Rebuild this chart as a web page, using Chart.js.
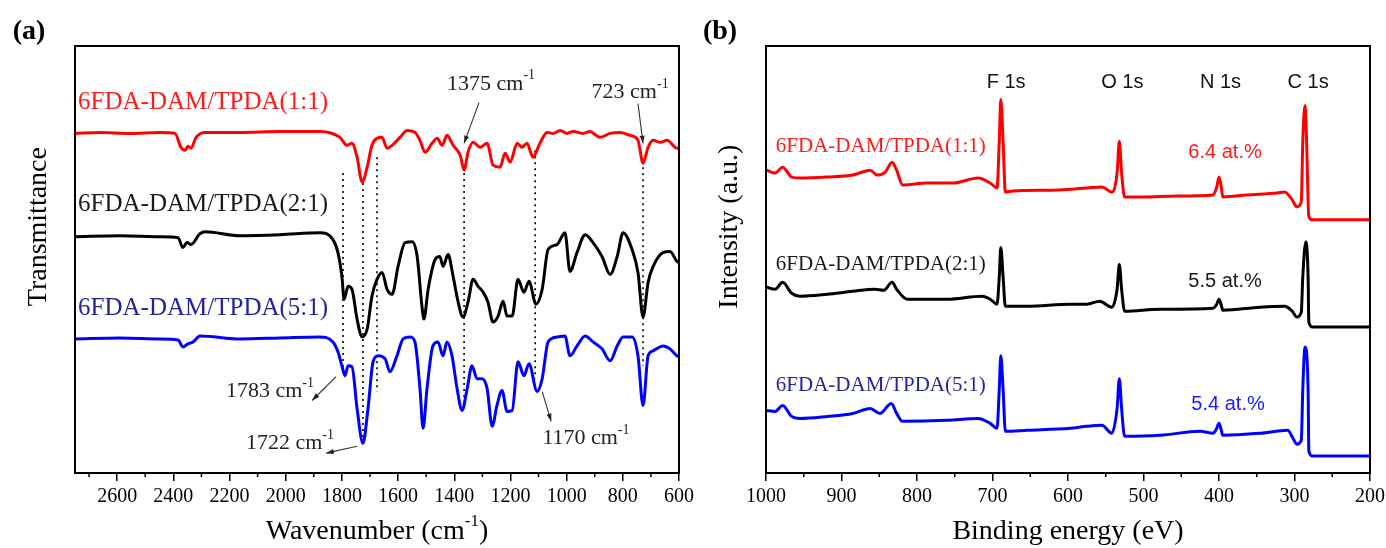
<!DOCTYPE html>
<html>
<head>
<meta charset="utf-8">
<script src="https://cdn.jsdelivr.net/npm/chart.js@4.4.1/dist/chart.umd.min.js"></script>
<style>
  html, body { margin: 0; padding: 0; background: #fff; }
  body { width: 1386px; height: 548px; position: relative; overflow: hidden; }
  canvas { position: absolute; top: 0; }
  #ftir { left: 0; }
  #xps { left: 693px; }
</style>
</head>
<body>
<canvas id="ftir" width="700" height="548"></canvas>
<canvas id="xps" width="693" height="548"></canvas>
<script>
// --- (a) FTIR spectra: wavenumber (cm-1) and offset transmittance (a.u.) ---
const irWn11 = [2750, 2661, 2554, 2447, 2394, 2373, 2358, 2348, 2337, 2319, 2287, 2163, 2020, 1878, 1807, 1782, 1764, 1746, 1728, 1710, 1693, 1675, 1657, 1639, 1621, 1593, 1568, 1540, 1522, 1504, 1479, 1461, 1443, 1426, 1404, 1379, 1365, 1351, 1333, 1308, 1283, 1262, 1237, 1219, 1201, 1176, 1159, 1141, 1120, 1095, 1070, 1048, 1023, 998, 977, 942, 917, 881, 845, 810, 774, 746, 728, 710, 692, 667, 642, 607, 600];
const irT11 = [68.4, 68.6, 68.4, 68.6, 68.4, 65.6, 65.0, 65.8, 65.4, 67.6, 68.6, 68.6, 68.8, 68.8, 67.6, 66.0, 66.4, 63.6, 58.6, 61.6, 66.0, 67.4, 67.6, 65.4, 66.0, 67.6, 69.0, 68.6, 67.0, 64.6, 66.4, 67.4, 66.0, 68.0, 66.0, 64.0, 61.0, 64.6, 66.6, 65.6, 66.4, 62.0, 61.6, 64.4, 62.6, 66.4, 65.6, 66.4, 63.6, 66.4, 68.6, 68.4, 69.0, 68.4, 68.8, 68.4, 68.8, 67.6, 68.4, 68.6, 68.0, 67.0, 62.4, 65.6, 67.0, 66.6, 67.0, 65.4, 65.4];

const irWn21 = [2750, 2590, 2447, 2383, 2366, 2351, 2337, 2305, 2287, 2163, 2020, 1878, 1832, 1814, 1800, 1792, 1778, 1764, 1746, 1728, 1710, 1693, 1675, 1657, 1639, 1621, 1600, 1575, 1550, 1532, 1515, 1508, 1493, 1468, 1451, 1440, 1422, 1404, 1386, 1369, 1351, 1333, 1315, 1297, 1280, 1262, 1244, 1226, 1212, 1194, 1173, 1152, 1134, 1109, 1087, 1066, 1034, 1006, 988, 963, 934, 906, 874, 845, 820, 799, 767, 746, 728, 710, 692, 657, 632, 607, 600];
const irT21 = [47.6, 47.8, 47.6, 47.4, 45.4, 46.4, 46.0, 48.2, 48.6, 47.8, 48.0, 48.4, 47.0, 44.4, 39.6, 35.0, 37.6, 37.0, 31.0, 27.4, 29.0, 35.6, 39.0, 40.4, 37.0, 36.0, 41.6, 46.4, 46.6, 43.6, 33.6, 31.0, 37.0, 43.0, 43.6, 41.6, 44.0, 39.6, 34.4, 31.4, 34.4, 39.0, 37.6, 36.4, 34.4, 30.4, 31.6, 34.6, 31.6, 31.6, 39.0, 36.4, 38.6, 34.0, 37.0, 45.0, 46.0, 48.4, 40.6, 44.4, 48.0, 46.4, 43.6, 40.0, 43.6, 48.4, 45.0, 40.4, 31.4, 38.4, 41.6, 44.4, 44.6, 42.6, 42.4];

const irWn51 = [2750, 2590, 2447, 2383, 2366, 2348, 2330, 2305, 2163, 2020, 1878, 1832, 1814, 1800, 1789, 1778, 1764, 1746, 1725, 1707, 1689, 1671, 1646, 1629, 1604, 1582, 1557, 1540, 1522, 1511, 1497, 1476, 1458, 1440, 1426, 1408, 1390, 1372, 1354, 1337, 1319, 1301, 1283, 1265, 1248, 1230, 1212, 1194, 1173, 1152, 1134, 1105, 1087, 1066, 1034, 1006, 988, 963, 934, 906, 874, 845, 820, 799, 767, 746, 728, 710, 692, 657, 632, 607, 600];
const irT51 = [27.0, 27.2, 27.0, 26.8, 25.4, 26.0, 26.4, 27.6, 27.0, 27.2, 27.4, 26.4, 24.4, 21.6, 19.6, 21.6, 21.4, 13.0, 6.0, 13.0, 22.4, 23.6, 23.0, 20.4, 23.6, 27.0, 27.4, 26.4, 17.0, 9.0, 17.0, 25.6, 26.4, 23.6, 26.4, 23.6, 17.0, 12.6, 17.0, 21.6, 19.0, 19.0, 17.0, 9.4, 13.6, 16.6, 12.4, 12.6, 22.4, 19.6, 22.0, 16.4, 19.0, 26.4, 27.4, 27.6, 23.6, 25.6, 27.6, 26.4, 25.0, 22.6, 25.6, 27.4, 27.4, 23.6, 13.6, 23.6, 24.6, 25.6, 25.0, 23.6, 23.4];

const irTicks = [600, 800, 1000, 1200, 1400, 1600, 1800, 2000, 2200, 2400, 2600];
const irMinor = [700, 900, 1100, 1300, 1500, 1700, 1900, 2100, 2300, 2500, 2700];

// dotted guide lines (band positions) and their vertical extent
const bandWn = [1796, 1725, 1675, 1365, 1112, 728];
const bandTop = [60.4, 58.4, 63.6, 60.4, 65.0, 61.6];
const bandBottom = [20.0, 6.4, 16.4, 13.0, 19.0, 21.6];

// --- (b) XPS survey spectra: binding energy (eV) and offset intensity (a.u.) ---
const xpsBE11 = [999, 988, 978, 966, 955, 919, 885, 862, 853, 842, 833, 827, 819, 787, 752, 719, 703, 694, 691, 689, 686, 683, 673, 611, 575, 555, 542, 535, 532, 529, 525, 501, 456, 408, 403, 400, 397, 395, 363, 323, 313, 303, 297, 291, 289, 286, 284, 281, 276, 200];
const xpsI11 = [61.0, 60.4, 61.6, 59.6, 59.4, 59.6, 60.0, 61.0, 60.0, 60.6, 62.6, 61.0, 58.0, 58.4, 58.4, 59.4, 58.4, 57.4, 67.0, 75.2, 67.0, 56.6, 56.8, 57.0, 57.4, 57.6, 56.6, 60.4, 66.8, 60.4, 55.6, 55.6, 55.8, 56.0, 57.6, 59.6, 57.6, 55.6, 56.0, 56.4, 56.6, 55.0, 53.6, 54.6, 67.0, 74.0, 67.0, 51.6, 51.0, 51.0];

const xpsBE21 = [999, 988, 978, 966, 955, 919, 885, 856, 844, 833, 827, 813, 760, 714, 703, 694, 691, 689, 686, 683, 654, 597, 575, 558, 542, 535, 532, 529, 525, 478, 408, 403, 400, 397, 395, 346, 313, 303, 297, 291, 289, 285, 282, 281, 276, 200];
const xpsI21 = [37.4, 37.0, 38.4, 36.2, 35.6, 36.0, 36.6, 37.0, 36.8, 38.4, 37.0, 35.0, 35.0, 35.6, 35.0, 34.0, 39.6, 45.4, 39.6, 33.6, 33.6, 34.0, 34.0, 34.6, 33.4, 37.0, 42.0, 37.0, 32.6, 33.0, 33.2, 34.0, 35.0, 33.8, 32.8, 33.4, 33.6, 32.6, 31.4, 32.4, 39.6, 46.6, 39.6, 30.4, 29.4, 29.4];

const xpsBE51 = [999, 988, 978, 966, 955, 919, 885, 862, 849, 834, 827, 819, 760, 719, 703, 694, 691, 689, 686, 683, 654, 597, 575, 555, 542, 535, 532, 529, 525, 478, 425, 408, 403, 400, 397, 395, 346, 309, 302, 297, 291, 289, 286, 282, 281, 276, 200];
const xpsI51 = [12.6, 12.4, 13.6, 11.4, 11.0, 11.4, 12.0, 13.0, 12.0, 14.0, 12.0, 10.4, 10.6, 11.0, 10.0, 9.0, 17.0, 23.6, 17.0, 8.4, 8.6, 9.0, 9.4, 9.6, 8.0, 13.0, 19.0, 13.0, 7.4, 7.6, 8.4, 8.0, 9.0, 10.0, 8.6, 7.6, 8.0, 8.6, 7.0, 5.8, 6.6, 17.0, 25.4, 17.0, 4.4, 3.4, 3.4];

const xpsTicks = [200, 300, 400, 500, 600, 700, 800, 900, 1000];
const xpsMinor = [250, 350, 450, 550, 650, 750, 850, 950];

const sampleNames = ['6FDA-DAM/TPDA(1:1)', '6FDA-DAM/TPDA(2:1)', '6FDA-DAM/TPDA(5:1)'];
const lineColors = ['#ff0000', '#000000', '#0000ff'];
const labelColors = ['#ff1a1a', '#1a1a1a', '#24249a'];
const atomicN = ['6.4 at.%', '5.5 at.%', '5.4 at.%'];
const coreLevels = ['F 1s', 'O 1s', 'N 1s', 'C 1s'];
const coreLevelBE = [682, 528, 398, 282];

const SERIF = '"Liberation Serif", "Times New Roman", serif';
const SANS = '"Liberation Sans", Arial, sans-serif';

const toPoints = (xs, ys) => xs.map((x, i) => ({ x, y: ys[i] }));

// text with superscript parts: [[text, isSup], ...]
function drawRich(ctx, parts, x, y, size, align) {
    const sup = Math.round(size * 0.62);
    const widths = parts.map(([t, s]) => {
        ctx.font = `${s ? sup : size}px ${SERIF}`;
        return ctx.measureText(t).width;
    });
    const total = widths.reduce((a, b) => a + b, 0);
    let cx = align === 'left' ? x : x - total / 2;
    ctx.textAlign = 'left';
    ctx.textBaseline = 'middle';
    parts.forEach(([t, s], i) => {
        ctx.font = `${s ? sup : size}px ${SERIF}`;
        ctx.fillText(t, cx, s ? y - size * 0.38 : y);
        cx += widths[i];
    });
}

function arrow(ctx, x1, y1, x2, y2) {
    ctx.beginPath();
    ctx.moveTo(x1, y1);
    ctx.lineTo(x2, y2);
    ctx.stroke();
    const a = Math.atan2(y2 - y1, x2 - x1), h = 8;
    ctx.beginPath();
    ctx.moveTo(x2, y2);
    ctx.lineTo(x2 - h * Math.cos(a - 0.32), y2 - h * Math.sin(a - 0.32));
    ctx.lineTo(x2 - h * Math.cos(a + 0.32), y2 - h * Math.sin(a + 0.32));
    ctx.closePath();
    ctx.fill();
}

// frame, minor ticks, axis titles and panel letter
function panelDecor(opts) {
    return {
        id: 'panelDecor',
        afterDraw(chart) {
            const { ctx, chartArea: ca, scales } = chart;
            ctx.save();
            ctx.strokeStyle = '#000';
            ctx.lineWidth = 2;
            ctx.strokeRect(ca.left, ca.top, ca.right - ca.left, ca.bottom - ca.top);
            ctx.lineWidth = 1.5;
            opts.minor.forEach(v => {
                const px = scales.x.getPixelForValue(v);
                ctx.beginPath();
                ctx.moveTo(px, ca.bottom);
                ctx.lineTo(px, ca.bottom + 4);
                ctx.stroke();
            });
            ctx.fillStyle = '#000';
            drawRich(ctx, opts.xTitle, (ca.left + ca.right) / 2, ca.bottom + 59, 28, 'center');
            ctx.save();
            ctx.translate(ca.left - 36, ca.top + (ca.bottom - ca.top) * 0.423);
            ctx.rotate(-Math.PI / 2);
            drawRich(ctx, [[opts.yTitle, false]], 0, 0, 28, 'center');
            ctx.restore();
            ctx.font = `bold 28px ${SERIF}`;
            ctx.textAlign = 'center';
            ctx.textBaseline = 'middle';
            ctx.fillText(opts.letter, ca.left - 46, ca.top - 14);
            if (opts.extra) opts.extra(chart);
            ctx.restore();
        }
    };
}

function xAxis(min, max, majors) {
    return {
        type: 'linear', min, max, reverse: true,
        afterBuildTicks: scale => { scale.ticks = majors.map(v => ({ value: v })); },
        grid: { display: true, drawOnChartArea: false, drawTicks: true, tickLength: 8, color: '#000', lineWidth: 1.5 },
        border: { display: false },
        ticks: {
            color: '#000', font: { family: SERIF, size: 20 }, padding: 4,
            maxRotation: 0, autoSkip: false, callback: v => String(v)
        }
    };
}

const baseOptions = (xScale, padding) => ({
    responsive: false,
    animation: false,
    devicePixelRatio: 1,
    layout: { padding },
    plugins: { legend: { display: false }, tooltip: { enabled: false } },
    scales: { x: xScale, y: { display: false, min: 0, max: 86 } },
    elements: { point: { radius: 0 }, line: { borderWidth: 3, cubicInterpolationMode: 'monotone' } }
});

// --- (a) FTIR chart ---
const irSeries = [[irWn11, irT11], [irWn21, irT21], [irWn51, irT51]];
const irDatasets = irSeries.map(([wn, t], i) => ({
    label: sampleNames[i], data: toPoints(wn, t), borderColor: lineColors[i]
}));
bandWn.forEach((wn, i) => {
    irDatasets.push({
        data: [{ x: wn, y: bandTop[i] }, { x: wn, y: bandBottom[i] }],
        borderColor: '#000', borderWidth: 1.6, borderDash: [2, 4],
        cubicInterpolationMode: 'default', tension: 0
    });
});

const irLabelT = [74.6, 54.0, 33.2];
const irNotes = [
    { text: '1375 cm', wn: 1269, t: 78.4, from: [1312, 74.6], to: [1365, 66.4] },
    { text: '723 cm', wn: 774, t: 76.6, from: [746, 74.4], to: [728, 66.4] },
    { text: '1783 cm', wn: 2056, t: 16.4, from: [1821, 19.4], to: [1906, 14.6] },
    { text: '1722 cm', wn: 1985, t: 6.0, from: [1746, 5.4], to: [1856, 4.0] },
    { text: '1170 cm', wn: 931, t: 7.0, from: [1087, 16.4], to: [1055, 10.4] }
];

new Chart(document.getElementById('ftir'), {
    type: 'line',
    data: { datasets: irDatasets },
    options: baseOptions(xAxis(600, 2750, irTicks), { left: 75, right: 21, top: 46, bottom: 35 }),
    plugins: [panelDecor({
        minor: irMinor, letter: '(a)', yTitle: 'Transmittance',
        xTitle: [['Wavenumber (cm', false], ['-1', true], [')', false]],
        extra(chart) {
            const { ctx, scales: { x, y } } = chart;
            sampleNames.forEach((name, i) => {
                ctx.fillStyle = labelColors[i];
                drawRich(ctx, [[name, false]], x.getPixelForValue(2739), y.getPixelForValue(irLabelT[i]), 25, 'left');
            });
            ctx.fillStyle = '#222';
            ctx.strokeStyle = '#333';
            ctx.lineWidth = 1.1;
            irNotes.forEach(n => {
                drawRich(ctx, [[n.text, false], ['-1', true]], x.getPixelForValue(n.wn), y.getPixelForValue(n.t), 22, 'center');
                arrow(ctx, x.getPixelForValue(n.from[0]), y.getPixelForValue(n.from[1]),
                    x.getPixelForValue(n.to[0]), y.getPixelForValue(n.to[1]));
            });
        }
    })]
});

// --- (b) XPS chart ---
const xpsSeries = [[xpsBE11, xpsI11], [xpsBE21, xpsI21], [xpsBE51, xpsI51]];
const xpsDatasets = xpsSeries.map(([be, v], i) => ({
    label: sampleNames[i], data: toPoints(be, v), borderColor: lineColors[i]
}));
const xpsLabelI = [65.8, 42.0, 17.6];
const atomicPos = [[392, 64.6], [392, 38.6], [388, 13.8]];
const atomicColors = ['#ff1a1a', '#1a1a1a', '#1a1aff'];

new Chart(document.getElementById('xps'), {
    type: 'line',
    data: { datasets: xpsDatasets },
    options: baseOptions(xAxis(200, 1000, xpsTicks), { left: 73, right: 16, top: 46, bottom: 35 }),
    plugins: [panelDecor({
        minor: xpsMinor, letter: '(b)', yTitle: 'Intensity (a.u.)',
        xTitle: [['Binding energy (eV)', false]],
        extra(chart) {
            const { ctx, scales: { x, y } } = chart;
            sampleNames.forEach((name, i) => {
                ctx.fillStyle = labelColors[i];
                drawRich(ctx, [[name, false]], x.getPixelForValue(987), y.getPixelForValue(xpsLabelI[i]), 21, 'left');
            });
            ctx.textAlign = 'center';
            ctx.textBaseline = 'middle';
            ctx.font = `20px ${SANS}`;
            ctx.fillStyle = '#111';
            coreLevels.forEach((t, i) => ctx.fillText(t, x.getPixelForValue(coreLevelBE[i]), y.getPixelForValue(78.6)));
            atomicN.forEach((t, i) => {
                ctx.fillStyle = atomicColors[i];
                ctx.fillText(t, x.getPixelForValue(atomicPos[i][0]), y.getPixelForValue(atomicPos[i][1]));
            });
        }
    })]
});
</script>
</body>
</html>
